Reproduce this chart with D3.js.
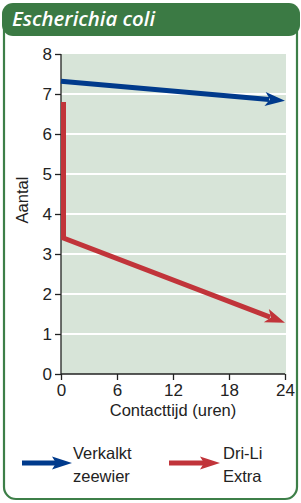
<!DOCTYPE html>
<html><head><meta charset="utf-8">
<script src="https://cdn.jsdelivr.net/npm/d3@7"></script>
<style>html,body{margin:0;padding:0;background:#fff;}svg{display:block;}</style>
</head><body>
<script>
const title = "Escherichia coli";
const xTicks = [0, 6, 12, 18, 24];
const yTicks = [0, 1, 2, 3, 4, 5, 6, 7, 8];
const seriesNames = ["Verkalkt zeewier", "Dri-Li Extra"];
const blueHours = [0, 24];
const blueValues = [7.32, 6.83];
const redHours = [0, 0, 24];
const redValues = [6.8, 3.4, 1.28];
const colors = ["#003a8c", "#c1343a"];

const W = 301, H = 503;
const svg = d3.select("body").append("svg").attr("width", W).attr("height", H);
const font = "'Liberation Sans', Arial, sans-serif";

// card border
svg.append("rect").attr("x", 4).attr("y", 8).attr("width", 293).attr("height", 491)
  .attr("rx", 12).attr("fill", "#fff").attr("stroke", "#3d7f48").attr("stroke-width", 2.2);
// header
svg.append("rect").attr("x", 2).attr("y", 3).attr("width", 298).attr("height", 33)
  .attr("rx", 11).attr("fill", "#3b7a44");
svg.append("text").attr("x", 12).attr("y", 26).text(title)
  .attr("fill", "#fff").attr("font-family", "'Open Sans', 'Noto Sans', sans-serif")
  .attr("font-style", "italic").attr("font-size", 20.5).attr("font-weight", 600)
  .attr("textLength", 143).attr("lengthAdjust", "spacingAndGlyphs");

const x = d3.scaleLinear().domain([0, 24]).range([61, 285]);
const y = d3.scaleLinear().domain([0, 8]).range([374, 54]);

// plot background
svg.append("rect").attr("x", x(0)).attr("y", y(8)).attr("width", x(24) - x(0) + 1)
  .attr("height", y(0) - y(8)).attr("fill", "#d7e4d8");
// grid
svg.append("g").selectAll("line").data(yTicks.filter(d => d > 0 && d < 8)).join("line")
  .attr("x1", x(0)).attr("x2", x(24) + 1).attr("y1", d => y(d)).attr("y2", d => y(d))
  .attr("stroke", "#fff").attr("stroke-width", 2);

// axes
const yAxis = svg.append("g").attr("transform", `translate(${x(0)},0)`)
  .call(d3.axisLeft(y).tickValues(yTicks).tickSize(6).tickPadding(3));
const xAxis = svg.append("g").attr("transform", `translate(0,${y(0)})`)
  .call(d3.axisBottom(x).tickValues(xTicks).tickSize(6).tickPadding(4));
[yAxis, xAxis].forEach(g => {
  g.selectAll("path,line").attr("stroke", "#222").attr("stroke-width", 1.3);
  g.selectAll("text").attr("font-family", font).attr("font-size", 17).attr("fill", "#222");
});
xAxis.select(".domain").attr("d", `M${x(0)},0H${x(24)}`);
yAxis.select(".domain").attr("d", `M0,${y(8)}V${y(0)}`);

svg.append("text").attr("x", 173).attr("y", 416).attr("text-anchor", "middle")
  .attr("font-family", font).attr("font-size", 16.5).attr("fill", "#222").text("Contacttijd (uren)");
svg.append("text").attr("transform", "translate(28,200) rotate(-90)").attr("text-anchor", "middle")
  .attr("font-family", font).attr("font-size", 16.5).attr("fill", "#222").text("Aantal");

// arrow helper: line with arrowhead at the end
function arrowLine(pts, color, width) {
  const n = pts.length;
  const [x1, y1] = pts[n - 2], [x2, y2] = pts[n - 1];
  const ang = Math.atan2(y2 - y1, x2 - x1);
  const L = 20, Wd = 7;
  const bx = x2 - L * Math.cos(ang), by = y2 - L * Math.sin(ang);
  const linePts = pts.slice(0, n - 1).concat([[x2 - (L - 4) * Math.cos(ang), y2 - (L - 4) * Math.sin(ang)]]);
  svg.append("path").attr("d", d3.line()(linePts)).attr("fill", "none")
    .attr("stroke", color).attr("stroke-width", width).attr("stroke-linejoin", "miter");
  const px = -Math.sin(ang), py = Math.cos(ang);
  const notch = 5;
  const nx = x2 - (L - notch) * Math.cos(ang), ny = y2 - (L - notch) * Math.sin(ang);
  svg.append("path").attr("d", `M${x2},${y2}L${bx + px * Wd},${by + py * Wd}L${nx},${ny}L${bx - px * Wd},${by - py * Wd}Z`)
    .attr("fill", color);
}

const bluePts = blueHours.map((h, i) => [x(h), y(blueValues[i])]);
arrowLine(bluePts, colors[0], 5);
const redPts = redHours.map((h, i) => [x(h) + (i < 2 ? 2.5 : 0), y(redValues[i])]);
arrowLine(redPts, colors[1], 5);

// legend
function legendArrow(x1, x2, yy, color) {
  svg.append("line").attr("x1", x1).attr("x2", x2 - 14).attr("y1", yy).attr("y2", yy)
    .attr("stroke", color).attr("stroke-width", 5);
  svg.append("path").attr("d", `M${x2},${yy}L${x2 - 20},${yy - 6.5}L${x2 - 16},${yy}L${x2 - 20},${yy + 6.5}Z`).attr("fill", color);
}
legendArrow(22, 72, 463, colors[0]);
legendArrow(169, 220, 463, colors[1]);
const leg = [[73, ["Verkalkt", "zeewier"]], [223, ["Dri-Li", "Extra"]]];
leg.forEach(([lx, lines]) => {
  lines.forEach((t, i) => svg.append("text").attr("x", lx).attr("y", 459 + i * 23)
    .attr("font-family", font).attr("font-size", 16.5).attr("fill", "#222").text(t));
});
</script>
</body></html>
